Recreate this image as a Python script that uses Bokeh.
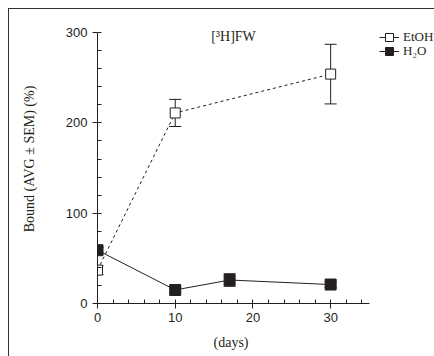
from bokeh.plotting import figure
from bokeh.models import (ColumnDataSource, Whisker, TeeHead, Range1d, SingleIntervalTicker,
                          Legend, LegendItem, Label)
from bokeh.embed import file_html
from bokeh.resources import INLINE

INK = "#231f20"

etoh_days = [0, 10, 30]
etoh_bound = [37, 211, 254]
etoh_sem = [5, 15, 33]

h2o_days = [0, 10, 17, 30]
h2o_bound = [59, 15, 26, 21]
h2o_sem = [3, 3, 7, 3]

x_ticks_interval = 10
y_ticks_interval = 100
x_axis_end = 35
y_axis_end = 300

# frame extends right of the x axis to hold the legend
AXIS_PX = 272
FRAME_PX = 337
x_view_end = x_axis_end * FRAME_PX / AXIS_PX

p = figure(frame_width=FRAME_PX, frame_height=289, output_backend="svg", toolbar_location=None,
           x_range=Range1d(0, x_view_end), y_range=Range1d(0, 320),
           min_border_left=88, min_border_right=0, min_border_top=5, min_border_bottom=53,
           styles={"border-top": "1px solid #333", "border-left": "1px solid #333",
                   "margin-left": "8px", "margin-top": "8px"})
p.outline_line_color = None
p.grid.visible = False
p.background_fill_color = "white"

def err_src(xs, ys, es):
    return ColumnDataSource(dict(x=xs, y=ys, lo=[a - b for a, b in zip(ys, es)],
                                 hi=[a + b for a, b in zip(ys, es)]))

src_e = err_src(etoh_days, etoh_bound, etoh_sem)
src_h = err_src(h2o_days, h2o_bound, h2o_sem)

for s in (src_e, src_h):
    w = Whisker(source=s, base="x", lower="lo", upper="hi", line_color=INK, line_width=1,
                upper_head=TeeHead(size=12, line_color=INK, line_width=1),
                lower_head=TeeHead(size=12, line_color=INK, line_width=1),
                level="underlay")
    p.add_layout(w)

p.line("x", "y", source=src_e, line_color=INK, line_width=1, line_dash="3 3")
p.line("x", "y", source=src_h, line_color=INK, line_width=1)
p.scatter("x", "y", source=src_e, marker="square", size=10, fill_color="white",
          line_color=INK, line_width=1)
p.scatter("x", "y", source=src_h, marker="square", size=11, fill_color=INK,
          line_color=INK, line_width=1)

# legend-only renderers (hidden in the plot)
le_l = p.line("x", "y", source=src_e, line_color=INK, line_width=1, visible=False)
le_s = p.scatter("x", "y", source=src_e, marker="square", size=10, fill_color="white",
                 line_color=INK, visible=False)
lh_l = p.line("x", "y", source=src_h, line_color=INK, line_width=1, visible=False)
lh_s = p.scatter("x", "y", source=src_h, marker="square", size=10, fill_color=INK,
                 line_color=INK, visible=False)

legend_kw = dict(border_line_color=None, background_fill_alpha=0,
                 label_text_font="Liberation Serif", label_text_font_size="13px",
                 label_text_color=INK, glyph_width=20, glyph_height=20, spacing=0,
                 padding=0, margin=0, label_standoff=4, label_height=13)
legend1 = Legend(items=[LegendItem(label="EtOH", renderers=[le_l, le_s])],
                 location=(282, 256), **legend_kw)
legend2 = Legend(items=[LegendItem(label="H₂O", renderers=[lh_l, lh_s])],
                 location=(282, 242), **legend_kw)
p.add_layout(legend1)
p.add_layout(legend2)

title = Label(x=x_axis_end / 2, y=y_axis_end, y_offset=-4, text="[³H]FW",
              text_font="Liberation Serif", text_font_size="14px", text_color=INK,
              text_align="center", text_baseline="middle")
p.add_layout(title)

p.xaxis.ticker = SingleIntervalTicker(interval=x_ticks_interval, num_minor_ticks=5)
p.yaxis.ticker = SingleIntervalTicker(interval=y_ticks_interval, num_minor_ticks=5)
p.xaxis.bounds = (0, x_axis_end)
p.yaxis.bounds = (0, y_axis_end)
for ax in (p.xaxis, p.yaxis):
    ax.axis_line_color = INK
    ax.major_tick_line_color = INK
    ax.minor_tick_line_color = INK
    ax.major_tick_out = 5
    ax.major_tick_in = 0
    ax.minor_tick_out = 0
    ax.minor_tick_in = 4
    ax.major_label_text_font = "Liberation Sans"
    ax.major_label_text_font_size = "13px"
    ax.major_label_text_color = INK
    ax.axis_label_text_font = "Liberation Serif"
    ax.axis_label_text_font_size = "14px"
    ax.axis_label_text_font_style = "normal"
    ax.axis_label_text_color = INK

# trailing no-break spaces keep the label centred under the axis, not the wider frame
p.xaxis.axis_label = "(days)" + "\u00a0" * 20
p.yaxis.axis_label = "Bound (AVG ± SEM) (%)"
p.xaxis.major_label_standoff = 4
p.yaxis.major_label_standoff = 5
p.xaxis.axis_label_standoff = 10
p.yaxis.axis_label_standoff = 26

open("out.html", "w").write(file_html(p, INLINE))
